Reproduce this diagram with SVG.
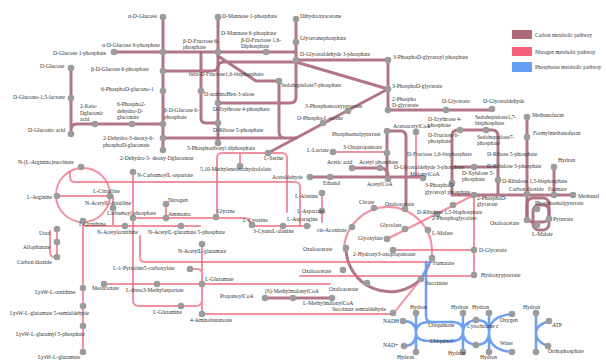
<svg xmlns="http://www.w3.org/2000/svg" width="606" height="360" viewBox="0 0 606 360">
<style>
text{font-family:"Liberation Serif","DejaVu Serif",serif;font-size:5.6px;fill:#333}
.lg{font-size:5.3px}
.c{fill:none;stroke:#a8687a;stroke-width:3;stroke-opacity:.9;stroke-linecap:round;stroke-linejoin:round}
.n{fill:none;stroke:#ee6c82;stroke-width:2;stroke-opacity:.75;stroke-linecap:round;stroke-linejoin:round}
.p{fill:none;stroke:#5f97ee;stroke-width:2.5;stroke-opacity:.9;stroke-linecap:round;stroke-linejoin:round}
.d{fill:#9c9c9c}
</style>
<rect width="606" height="360" fill="#fff"/>
<g id="legend">
<rect x="512" y="30" width="20" height="9" fill="#b06a76"/><text class="lg" x="535" y="37">Carbon metabolic pathway</text>
<rect x="512" y="47" width="20" height="9" fill="#f2607a"/><text class="lg" x="535" y="54">Nitrogen metabolic pathway</text>
<rect x="512" y="62" width="20" height="10" fill="#66a0f4"/><text class="lg" x="535" y="69">Phosphorus metabolic pathway</text>
</g>
<g id="connectors">
<path class="c" d="M163,17V150M218,17V143M114,52H296M296,19V60M296,60H388V110H492M296,62L388,89M388,89L268,153"/>
<path class="c" d="M71,68V134M71,130Q71,124 77,124H163M201,52V118Q201,123 206,123H218M163,71H212Q218,71 218,66M218,56L256,81H279M218,67Q218,62 224,62H296M218,103H290Q296,103 296,97V62M279,81V132Q279,138 285,138M163,138H296"/>
<path class="c" d="M452,195V136Q452,130 458,130H492Q498,130 498,136V195M452,167H498M452,195H573M527,117V220M554,167V195"/>
<rect class="c" x="527" y="198" width="22" height="24" rx="6"/>
<rect class="c" x="533" y="205" width="16" height="25" rx="6"/>
<path class="c" d="M387,131V179M387,131H401Q406,131 406,137V209M352,168H380Q388,168 388,176M310,177H423"/>
<path class="c" d="M346,248A44,44 0 0 0 421,279"/>
<path class="c" d="M265,298H332"/>
<circle class="n" cx="83" cy="195" r="27"/>
<path class="n" d="M57,196H113V226M70,172V177Q70,182 75,182H295Q300,182 300,187V226M83,222V352M50,231V252Q50,258 57,257M57,229V257M83,226H200"/>
<path class="n" d="M133,172V300Q133,306 139,306H196Q202,306 202,300V244M202,244V314M133,218H244Q250,218 250,224V226H310M166,204V218M190,269H197Q202,269 202,274"/>
<path class="n" d="M217,217V158Q217,153 222,153H282Q287,153 287,158V212M240,153V166"/>
<path class="n" d="M140,236V257Q140,262 145,262H432M104,284H157M157,284H330M202,314H393L421,279M333,152H387M416,132V178M322,193V222"/>
<path class="n" d="M344,251A44,44 0 0 1 432,251A44,44 0 0 1 421,279"/>
<path class="n" d="M474,195V275M474,195L387,239M393,250H474M300,276H474"/>
<path class="p" d="M432,258L421,279M426,262V316Q426,322 432,322H452M430,341H455M416,313V352M403,321Q416,321 416,333Q416,346 404,346M430,322Q416,322 416,333Q416,341 430,341"/>
<path class="p" d="M463,313V352M452,322Q463,322 463,331Q463,341 452,341M476,320Q463,322 463,332Q463,343 476,345"/>
<path class="p" d="M489,313V352M476,320Q489,320 489,332Q489,345 476,345M512,314Q489,316 489,333Q489,350 512,352"/>
<path class="p" d="M536,313V352M549,321Q536,325 536,333Q536,342 548,346"/>
</g>
<g id="n1"><circle class="d" cx="163" cy="17" r="3.3"/><text x="128" y="18">α-D-Glucose</text></g>
<g id="n2"><circle class="d" cx="163" cy="52" r="3.3"/><text x="102" y="47">α-D-Glucose 6-phosphate</text></g>
<g id="n3"><circle class="d" cx="114" cy="52" r="3.3"/><text x="53" y="55">D-Glucose 1-phosphate</text></g>
<g id="n4"><circle class="d" cx="71" cy="68" r="3.3"/><text x="40" y="68">D-Glucose</text></g>
<g id="n5"><circle class="d" cx="163" cy="71" r="3.3"/><text x="91" y="71">β-D-Glucose 6-phosphate</text></g>
<g id="n6"><circle class="d" cx="163" cy="91" r="3.3"/><text x="101" y="91">6-PhosphoD-glucono-1</text></g>
<g id="n7"><circle class="d" cx="71" cy="98" r="3.3"/><text x="13" y="99">D-Glucono-1,5-lactone</text></g>
<g id="n8"><circle class="d" cx="95" cy="124" r="3.3"/><text x="80" y="108">2-Keto-</text><text x="80" y="114.5">Dgluconic</text><text x="80" y="121">acid</text></g>
<g id="n9"><circle class="d" cx="132" cy="124" r="3.3"/><text x="117" y="106">6-Phospho2-</text><text x="117" y="112.5">dehydro-D-</text><text x="117" y="119">gluconate</text></g>
<g id="n10"><circle class="d" cx="71" cy="134" r="3.3"/><text x="28" y="132">D-Gluconic acid</text></g>
<g id="n11"><circle class="d" cx="163" cy="138" r="3.3"/><text x="103" y="140">2-Dehydro-3-deoxy-6-</text><text x="103" y="147">phosphoD-gluconate</text></g>
<g id="n12"><circle class="d" cx="163" cy="150" r="3.3"/><text x="120" y="160">2-Dehydro-3- deoxy-Dgluconate</text></g>
<g id="n13"><circle class="d" cx="163" cy="124" r="3.3"/><text x="164" y="112">β-D-Glucose 6-</text><text x="164" y="118.5">phosphate</text></g>
<g id="n14"><circle class="d" cx="218" cy="17" r="3.3"/><text x="222" y="18">D-Mannose 1-phosphate</text></g>
<g id="n15"><text x="221" y="35">D-Mannose 6-phosphate</text></g>
<g id="n16"><circle class="d" cx="218" cy="52" r="3.3"/><text x="183" y="43">β-D-Fructose 6-</text><text x="183" y="49">phosphate</text></g>
<g id="n17"><circle class="d" cx="266" cy="52" r="3.3"/><text x="241" y="42">β-D-Fructose 1,6-</text><text x="241" y="48">Diphosphate</text></g>
<g id="n18"><circle class="d" cx="296" cy="19" r="3.3"/><text x="300" y="18">Dihydroxyacetone</text></g>
<g id="n19"><circle class="d" cx="296" cy="42" r="3.3"/><text x="300" y="40">Glyceronephosphate</text></g>
<g id="n20"><circle class="d" cx="296" cy="60" r="3.3"/><text x="300" y="56">D-Glyceraldehyde 3-phosphate</text></g>
<g id="n21"><text x="189" y="76">beta-D-Fructose1,6-bisphosphate</text></g>
<g id="n22"><circle class="d" cx="279" cy="81" r="3.3"/><text x="281" y="87">Sedoheptulose7-phosphate</text></g>
<g id="n23"><circle class="d" cx="201" cy="91" r="3.3"/><text x="204" y="96">D-arabinoHex-3-ulose</text></g>
<g id="n24"><circle class="d" cx="218" cy="103" r="3.3"/><text x="213" y="111">D-Erythrose 4-phosphate</text></g>
<g id="n25"><circle class="d" cx="388" cy="60" r="3.3"/><text x="393" y="59">3-PhosphoD-glyceroyl phosphate</text></g>
<g id="n26"><circle class="d" cx="388" cy="89" r="3.3"/><text x="392" y="88">3-PhosphoD-glycerate</text></g>
<g id="n27"><circle class="d" cx="388" cy="110" r="3.3"/><text x="392" y="101">2-Phospho</text><text x="392" y="107">D-glycerate</text></g>
<g id="n28"><circle class="d" cx="348" cy="111" r="3.3"/><text x="305" y="108">3-Phosphonooxypyruvate</text></g>
<g id="n29"><circle class="d" cx="323" cy="123" r="3.3"/><text x="297" y="120">O-Phospho-L-serine</text></g>
<g id="n30"><circle class="d" cx="446" cy="110" r="3.3"/><text x="442" y="103">D-Glycerate</text></g>
<g id="n31"><circle class="d" cx="492" cy="109" r="3.3"/><text x="483" y="103">D-Glyceraldehyde</text></g>
<g id="n32"><circle class="d" cx="527" cy="117" r="3.3"/><text x="532" y="117">Methanofuran</text></g>
<g id="n33"><circle class="d" cx="460" cy="130" r="3.3"/><text x="428" y="121">D-Erythrose 4-</text><text x="428" y="127">phosphate</text></g>
<g id="n34"><circle class="d" cx="486" cy="130" r="3.3"/><text x="475" y="119">Sedoheptulose1,7-</text><text x="475" y="125">bisphosphate</text></g>
<g id="n35"><text x="428" y="137">D-Fructose 6-</text><text x="428" y="143">phosphate</text></g>
<g id="n36"><text x="477" y="139">Sedoheptulose7-</text><text x="477" y="145">phosphate</text></g>
<g id="n37"><circle class="d" cx="527" cy="137" r="3.3"/><text x="533" y="135">Formylmethanofuran</text></g>
<g id="n38"><text x="487" y="156">D-Ribose 5-phosphate</text></g>
<g id="n39"><text x="407" y="156">D-Fructose 1,6-bisphosphate</text></g>
<g id="n40"><circle class="d" cx="474" cy="167" r="3.3"/><text x="394" y="169">D-Glyceraldehyde 3-phosphate</text></g>
<g id="n41"><text x="487" y="168">D-Ribulose 5-phosphate</text></g>
<g id="n42"><circle class="d" cx="554" cy="167" r="3.3"/><text x="558" y="162">Hydron</text></g>
<g id="n43"><text x="462" y="175">D-Xylulose 5-</text><text x="462" y="181">phosphate</text></g>
<g id="n44"><circle class="d" cx="498" cy="180" r="3.3"/><text x="502" y="183">D-Ribulose 1,5-bisphosphate</text></g>
<g id="n45"><circle class="d" cx="452" cy="183" r="3.3"/><text x="425" y="187">3-PhosphoD-</text><text x="425" y="194">glyceroyl phosphate</text></g>
<g id="n46"><circle class="d" cx="527" cy="194" r="3.3"/><text x="509" y="191">Carbon dioxide</text></g>
<g id="n47"><circle class="d" cx="554" cy="195" r="3.3"/><text x="548" y="191">Formate</text></g>
<g id="n48"><circle class="d" cx="573" cy="195" r="3.3"/><text x="578" y="198">Methanal</text></g>
<g id="n49"><circle class="d" cx="474" cy="195" r="3.3"/><text x="477" y="200">2-PhosphoD-</text><text x="477" y="206">glycerate</text></g>
<g id="n50"><circle class="d" cx="537" cy="209" r="3.3"/><text x="535" y="205">Phosphoenolpyruvate</text></g>
<g id="n51"><circle class="d" cx="527" cy="220" r="3.3"/><text x="490" y="225">Oxaloacetate</text></g>
<g id="n52"><circle class="d" cx="549" cy="219" r="3.3"/><text x="553" y="221">Pyruvate</text></g>
<g id="n53"><circle class="d" cx="537" cy="225" r="3.3"/><text x="532" y="236">L-Malate</text></g>
<g id="n54"><circle class="d" cx="387" cy="131" r="3.3"/><text x="332" y="136">Phosphoenolpyruvate</text></g>
<g id="n55"><circle class="d" cx="416" cy="132" r="3.3"/><text x="393" y="128">AcetoacetylCoA</text></g>
<g id="n56"><circle class="d" cx="387" cy="153" r="3.3"/><text x="343" y="149">3-Oxopropanoate</text></g>
<g id="n57"><circle class="d" cx="333" cy="152" r="3.3"/><text x="307" y="152">L-Lactate</text></g>
<g id="n58"><circle class="d" cx="352" cy="168" r="3.3"/><text x="327" y="164">Acetic acid</text></g>
<g id="n59"><circle class="d" cx="380" cy="168" r="3.3"/><text x="359" y="164">Acetyl phosphate</text></g>
<g id="n60"><circle class="d" cx="423" cy="178" r="3.3"/><text x="410" y="176">MalonylCoA</text></g>
<g id="n61"><circle class="d" cx="310" cy="177" r="3.3"/><text x="272" y="179">Acetaldehyde</text></g>
<g id="n62"><circle class="d" cx="330" cy="177" r="3.3"/><text x="323" y="185">Ethanol</text></g>
<g id="n63"><circle class="d" cx="388" cy="179" r="3.3"/><text x="367" y="186">AcetylCoA</text></g>
<g id="n64"><circle class="d" cx="322" cy="193" r="3.3"/><text x="295" y="198">L-Alanine</text></g>
<g id="n65"><circle class="d" cx="374" cy="208" r="3.3"/><text x="359" y="204">Citrate</text></g>
<g id="n66"><circle class="d" cx="405" cy="209" r="3.3"/><text x="385" y="206">Oxaloacetate</text></g>
<g id="n67"><circle class="d" cx="322" cy="211" r="3.3"/><text x="297" y="213">L-Aspartate</text></g>
<g id="n68"><circle class="d" cx="307" cy="226" r="3.3"/><text x="287" y="221">L-Asparagine</text></g>
<g id="n69"><circle class="d" cx="352" cy="227" r="3.3"/><text x="317" y="232">cis-Aconitate</text></g>
<g id="n70"><circle class="d" cx="405" cy="229" r="3.3"/><text x="380" y="227">Glycolate</text></g>
<g id="n71"><circle class="d" cx="387" cy="239" r="3.3"/><text x="358" y="240">Glyoxylate</text></g>
<g id="n72"><circle class="d" cx="428" cy="230" r="3.3"/><text x="432" y="235">L-Malate</text></g>
<g id="n73"><circle class="d" cx="437" cy="214" r="3.3"/><text x="417" y="214">D-Ribulose 1,5-bisphosphate</text></g>
<g id="n74"><circle class="d" cx="453" cy="205" r="3.3"/><text x="432" y="220">2-Phosphoglycolate</text></g>
<g id="n75"><circle class="d" cx="218" cy="123" r="3.3"/><text x="213" y="132">D-Ribose 5-phosphate</text></g>
<g id="n76"><circle class="d" cx="218" cy="143" r="3.3"/><text x="187" y="150">5-Phosphoribosyl diphosphate</text></g>
<g id="n77"><circle class="d" cx="268" cy="153" r="3.3"/><text x="264" y="160">L-Serine</text></g>
<g id="n78"><circle class="d" cx="240" cy="166" r="3.3"/><text x="200" y="171">5,10-Methylenetetrahydrofolate</text></g>
<g id="n79"><circle class="d" cx="133" cy="172" r="3.3"/><text x="137" y="177">N-CarbamoylL-aspartate</text></g>
<g id="n80"><circle class="d" cx="166" cy="204" r="3.3"/><text x="168" y="202">Nitrogen</text></g>
<g id="n81"><circle class="d" cx="166" cy="218" r="3.3"/><text x="168" y="216">Ammonia</text></g>
<g id="n82"><circle class="d" cx="216" cy="217" r="3.3"/><text x="217" y="213">Glycine</text></g>
<g id="n83"><circle class="d" cx="252" cy="225" r="3.3"/><text x="243" y="222">L-Cysteine</text></g>
<g id="n84"><circle class="d" cx="283" cy="226" r="3.3"/><text x="253" y="233">3-CyanoL-alanine</text></g>
<g id="n85"><circle class="d" cx="181" cy="226" r="3.3"/><text x="148" y="234">N-AcetylL-glutamate 5-phosphate</text></g>
<g id="n86"><circle class="d" cx="133" cy="218" r="3.3"/><text x="107" y="215">Carbamoyl phosphate</text></g>
<g id="n87"><circle class="d" cx="125" cy="226" r="3.3"/><text x="97" y="234">N-Acetylornithine</text></g>
<g id="n88"><circle class="d" cx="81" cy="167" r="3.3"/><text x="18" y="164">N-(L-Arginino)succinate</text></g>
<g id="n89"><circle class="d" cx="110" cy="196" r="3.3"/><text x="93" y="193">L-Citrulline</text></g>
<g id="n90"><circle class="d" cx="57" cy="196" r="3.3"/><text x="27" y="199">L-Arginine</text></g>
<g id="n91"><circle class="d" cx="113" cy="208" r="3.3"/><text x="85" y="205">N-AcetylL-citrulline</text></g>
<g id="n92"><circle class="d" cx="83" cy="221" r="3.3"/><text x="79" y="226">L-Ornithine</text></g>
<g id="n93"><circle class="d" cx="57" cy="229" r="3.3"/><text x="39" y="235">Urea</text></g>
<g id="n94"><circle class="d" cx="57" cy="242" r="3.3"/><text x="23" y="249">Allophanate</text></g>
<g id="n95"><circle class="d" cx="57" cy="257" r="3.3"/><text x="17" y="264">Carbon dioxide</text></g>
<g id="n96"><circle class="d" cx="83" cy="288" r="3.3"/><text x="35" y="294">LysW-L-ornithine</text></g>
<g id="n97"><circle class="d" cx="83" cy="306" r="3.3"/><text x="10" y="315">LysW-L-glutamate 5-semialdehyde</text></g>
<g id="n98"><circle class="d" cx="83" cy="326" r="3.3"/><text x="16" y="336">LysW-L-glutamyl 5-phosphate</text></g>
<g id="n99"><circle class="d" cx="83" cy="352" r="3.3"/><text x="38" y="359">LysW-L-glutamate</text></g>
<g id="n100"><circle class="d" cx="190" cy="269" r="3.3"/><text x="113" y="270">L-1-Pyrroline5-carboxylate</text></g>
<g id="n101"><circle class="d" cx="104" cy="284" r="3.3"/><text x="92" y="290">Mesaconate</text></g>
<g id="n102"><circle class="d" cx="157" cy="284" r="3.3"/><text x="126" y="292">L-threo3-Methylaspartate</text></g>
<g id="n103"><circle class="d" cx="181" cy="306" r="3.3"/><text x="153" y="314">L-Glutamine</text></g>
<g id="n104"><circle class="d" cx="202" cy="244" r="3.3"/><text x="178" y="253">N-AcetylL-glutamate</text></g>
<g id="n105"><circle class="d" cx="202" cy="284" r="3.3"/><text x="205" y="281">L-Glutamate</text></g>
<g id="n106"><circle class="d" cx="202" cy="314" r="3.3"/><text x="190" y="322">4-Aminobutanoate</text></g>
<g id="n107"><circle class="d" cx="265" cy="298" r="3.3"/><text x="220" y="298">PropanoylCoA</text></g>
<g id="n108"><circle class="d" cx="293" cy="298" r="3.3"/><text x="265" y="293">(S)-MethylmalonylCoA</text></g>
<g id="n109"><circle class="d" cx="332" cy="298" r="3.3"/><text x="303" y="305">L-MethylmalonylCoA</text></g>
<g id="n110"><circle class="d" cx="367" cy="283" r="3.3"/><text x="329" y="291">Oxaloacetate</text></g>
<g id="n111"><circle class="d" cx="393" cy="313" r="3.3"/><text x="332" y="311">Succinate semialdehyde</text></g>
<g id="n112"><circle class="d" cx="343" cy="270" r="3.3"/><text x="302" y="273">Oxaloacetate</text></g>
<g id="n113"><circle class="d" cx="346" cy="248" r="3.3"/><text x="303" y="251">Oxaloacetate</text></g>
<g id="n114"><circle class="d" cx="393" cy="250" r="3.3"/><text x="353" y="256">2-Hydroxy3-oxopropanoate</text></g>
<g id="n115"><circle class="d" cx="432" cy="258" r="3.3"/><text x="433" y="265">Fumarate</text></g>
<g id="n116"><circle class="d" cx="421" cy="279" r="3.3"/><text x="426" y="285">Succinate</text></g>
<g id="n117"><circle class="d" cx="474" cy="250" r="3.3"/><text x="479" y="252">D-Glycerate</text></g>
<g id="n118"><circle class="d" cx="474" cy="275" r="3.3"/><text x="481" y="277">Hydroxypyruvate</text></g>
<g id="n119"><circle class="d" cx="416" cy="313" r="3.3"/><text x="410" y="309">Hydron</text></g>
<g id="n120"><circle class="d" cx="403" cy="321" r="3.3"/><text x="383" y="323">NADH</text></g>
<g id="n121"><circle class="d" cx="404" cy="346" r="3.3"/><text x="383" y="347">NAD+</text></g>
<g id="n122"><circle class="d" cx="416" cy="352" r="3.3"/><text x="397" y="359">Hydron</text></g>
<g id="n123"><text x="428" y="327">Ubiquinone</text></g>
<g id="n124"><text x="430" y="343">Ubiquinol</text></g>
<g id="n125"><circle class="d" cx="463" cy="313" r="3.3"/><text x="451" y="309">Hydron</text></g>
<g id="n126"><circle class="d" cx="463" cy="352" r="3.3"/><text x="448" y="355">Hydron</text></g>
<g id="n127"><circle class="d" cx="476" cy="320" r="3.3"/><circle class="d" cx="476" cy="345" r="3.3"/><text x="467" y="328">Cytochrome c</text></g>
<g id="n128"><circle class="d" cx="489" cy="313" r="3.3"/><text x="472" y="309">Hydron</text></g>
<g id="n129"><circle class="d" cx="512" cy="314" r="3.3"/><text x="500" y="322">Oxygen</text></g>
<g id="n130"><circle class="d" cx="512" cy="352" r="3.3"/><text x="500" y="345">Water</text></g>
<g id="n131"><circle class="d" cx="489" cy="352" r="3.3"/><text x="480" y="359">Hydron</text></g>
<g id="n132"><circle class="d" cx="536" cy="313" r="3.3"/><text x="523" y="309">Hydron</text></g>
<g id="n133"><circle class="d" cx="549" cy="321" r="3.3"/><text x="552" y="327">ATP</text></g>
<g id="n134"><circle class="d" cx="548" cy="346" r="3.3"/><text x="548" y="353">Orthophosphate</text></g>
<g id="n135"><circle class="d" cx="536" cy="352" r="3.3"/></g>
</svg>
